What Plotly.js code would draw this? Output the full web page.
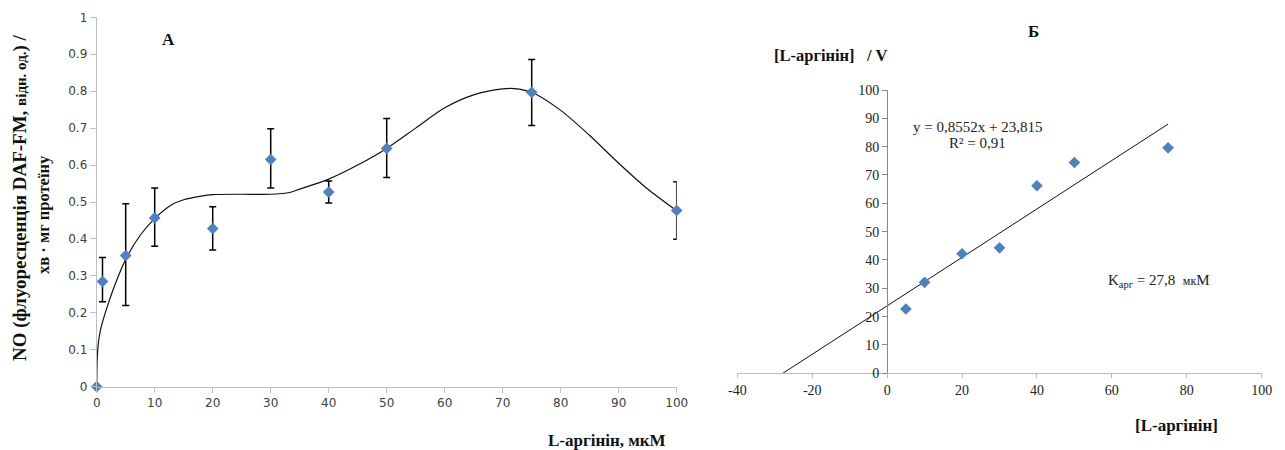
<!DOCTYPE html>
<html>
<head>
<meta charset="utf-8">
<script src="https://cdn.plot.ly/plotly-3.0.1.min.js"></script>
<style>html,body{margin:0;padding:0;background:#fff;}#chart{width:1285px;height:450px;}</style>
</head>
<body>
<div id="chart"></div>
<script>
// ---- Panel A data ----
const concA = [0, 1, 5, 10, 20, 30, 40, 50, 75, 100];
const noA = [0, 0.285, 0.355, 0.457, 0.428, 0.615, 0.527, 0.645, 0.797, 0.477];
const errPlusA = [0, 0.065, 0.14, 0.081, 0.059, 0.083, 0.03, 0.081, 0.089, 0.078];
const errMinusA = [0, 0.055, 0.135, 0.077, 0.058, 0.077, 0.03, 0.079, 0.09, 0.078];
// smooth trend curve
const curveX = [0, 0.1, 0.3, 0.6, 1, 2, 3, 5, 7.5, 10, 13, 15, 18, 20, 25, 30, 33, 35, 40, 45, 50, 55, 60, 65, 70, 72, 75, 80, 85, 90, 95, 100];
const curveY = [0, 0.08, 0.12, 0.15, 0.175, 0.225, 0.27, 0.345, 0.41, 0.455, 0.493, 0.506, 0.516, 0.52, 0.521, 0.521, 0.525, 0.535, 0.562, 0.6, 0.645, 0.7, 0.755, 0.79, 0.806, 0.807, 0.797, 0.748, 0.68, 0.605, 0.535, 0.476];
const tickValsA = [0, 10, 20, 30, 40, 50, 60, 70, 80, 90, 100];
// ---- Panel Б data ----
const concB = [5, 10, 20, 30, 40, 50, 75];
const ratioB = [22.7, 32.1, 42.2, 44.3, 66.2, 74.4, 79.6];
const slopeB = 0.8552;
const interceptB = 23.815;
const fitRangeB = [-interceptB / slopeB, 75];
const tickValsB = [-40, -20, 0, 20, 40, 60, 80, 100];
const tickTextB = ['-40', '-20', '0', '20', '40', '60', '80', '100'];

const blue = '#4f81bd';
const serif = 'Liberation Serif, Times New Roman, serif';

const traces = [
  {x: curveX, y: curveY, mode: 'lines', line: {shape: 'spline', smoothing: 0.8, color: '#111', width: 1.2}, xaxis: 'x', yaxis: 'y', hoverinfo: 'skip'},
  {x: concA, y: noA, mode: 'markers', cliponaxis: false, marker: {symbol: 'diamond', size: 9, color: blue},
   error_y: {type: 'data', symmetric: false, array: errPlusA, arrayminus: errMinusA, color: '#000', thickness: 1.5, width: 3.5},
   xaxis: 'x', yaxis: 'y'},
  {x: fitRangeB, y: fitRangeB.map(v => slopeB * v + interceptB), mode: 'lines', line: {color: '#111', width: 1}, xaxis: 'x2', yaxis: 'y2', hoverinfo: 'skip'},
  {x: concB, y: ratioB, mode: 'markers', marker: {symbol: 'diamond', size: 9, color: blue}, xaxis: 'x2', yaxis: 'y2'}
];

const layout = {
  width: 1285, height: 450,
  margin: {l: 0, r: 0, t: 0, b: 0},
  paper_bgcolor: '#fff', plot_bgcolor: 'rgba(0,0,0,0)',
  showlegend: false,
  xaxis: {domain: [96.7/1285, 676.7/1285], range: [0, 100], tickvals: tickValsA,
    showgrid: false, zeroline: false, showline: true, linecolor: '#bfbfbf', linewidth: 1,
    ticks: 'outside', ticklen: 5, tickcolor: '#bfbfbf',
    tickfont: {family: 'DejaVu Sans', size: 12, color: '#404040'}, anchor: 'y'},
  yaxis: {domain: [1 - 386.7/450, 1 - 17.3/450], range: [0, 1], dtick: 0.1, tick0: 0,
    showgrid: false, zeroline: false, showline: true, linecolor: '#bfbfbf', linewidth: 1,
    ticks: 'outside', ticklen: 6, tickcolor: '#bfbfbf',
    tickfont: {family: 'DejaVu Sans', size: 12, color: '#404040'}, anchor: 'x'},
  xaxis2: {domain: [737.3/1285, 1261.7/1285], range: [-40, 100], tickvals: tickValsB, ticktext: tickTextB,
    showgrid: false, zeroline: false, showline: true, linecolor: '#bbbbbb', linewidth: 1,
    ticks: 'outside', ticklen: 4, tickcolor: '#bbbbbb',
    tickfont: {family: serif, size: 14, color: '#222'}, anchor: 'y2'},
  yaxis2: {domain: [1 - 373.3/450, 1 - 90/450], range: [0, 100], dtick: 10, tick0: 0,
    showgrid: false, zeroline: false, showline: true, linecolor: '#888', linewidth: 1,
    ticks: 'outside', ticklen: 5, tickcolor: '#888',
    tickfont: {family: serif, size: 14, color: '#222'},
    anchor: 'free', position: (737.3 + (40/140) * (1261.7 - 737.3)) / 1285},
  annotations: [
    {text: '<b>NO (флуоресценція DAF-FM, <span style="font-size:15px">відн. од.</span>) /</b>', xref: 'paper', yref: 'paper', x: 20/1285, y: 1 - 198/450, textangle: -90, showarrow: false, xanchor: 'center', yanchor: 'middle', font: {family: serif, size: 19, color: '#111'}},
    {text: '<b>хв · мг протеїну</b>', xref: 'paper', yref: 'paper', x: 43/1285, y: 1 - 215/450, textangle: -90, showarrow: false, xanchor: 'center', yanchor: 'middle', font: {family: serif, size: 16.5, color: '#111'}},
    {text: '<b>А</b>', xref: 'paper', yref: 'paper', x: 168/1285, y: 1 - 39/450, showarrow: false, xanchor: 'center', yanchor: 'middle', font: {family: serif, size: 17, color: '#111'}},
    {text: '<b>L-аргінін, мкМ</b>', xref: 'paper', yref: 'paper', x: 607/1285, y: 1 - 440/450, showarrow: false, xanchor: 'center', yanchor: 'middle', font: {family: serif, size: 17, color: '#111'}},
    {text: '<b>Б</b>', xref: 'paper', yref: 'paper', x: 1033/1285, y: 1 - 31/450, showarrow: false, xanchor: 'center', yanchor: 'middle', font: {family: serif, size: 17, color: '#111'}},
    {text: '<b>[L-аргінін]&nbsp;&nbsp;&nbsp;/ V</b>', xref: 'paper', yref: 'paper', x: 772/1285, y: 1 - 55/450, showarrow: false, xanchor: 'left', yanchor: 'middle', font: {family: serif, size: 16.5, color: '#111'}},
    {text: '<b>[L-аргінін]</b>', xref: 'paper', yref: 'paper', x: 1176/1285, y: 1 - 425/450, showarrow: false, xanchor: 'center', yanchor: 'middle', font: {family: serif, size: 17, color: '#111'}},
    {text: 'y = 0,8552x + 23,815', xref: 'paper', yref: 'paper', x: 977/1285, y: 1 - 127/450, showarrow: false, xanchor: 'center', yanchor: 'middle', font: {family: serif, size: 15, color: '#222'}},
    {text: 'R² = 0,91', xref: 'paper', yref: 'paper', x: 977/1285, y: 1 - 143/450, showarrow: false, xanchor: 'center', yanchor: 'middle', font: {family: serif, size: 15, color: '#222'}},
    {text: 'K<sub>арг</sub> = 27,8&nbsp;&nbsp;<span style="font-size:12px">мк</span>М', xref: 'paper', yref: 'paper', x: 1106/1285, y: 1 - 281/450, showarrow: false, xanchor: 'left', yanchor: 'middle', font: {family: serif, size: 15, color: '#222'}}
  ]
};

Plotly.newPlot('chart', traces, layout, {staticPlot: true, displayModeBar: false});
</script>
</body>
</html>
